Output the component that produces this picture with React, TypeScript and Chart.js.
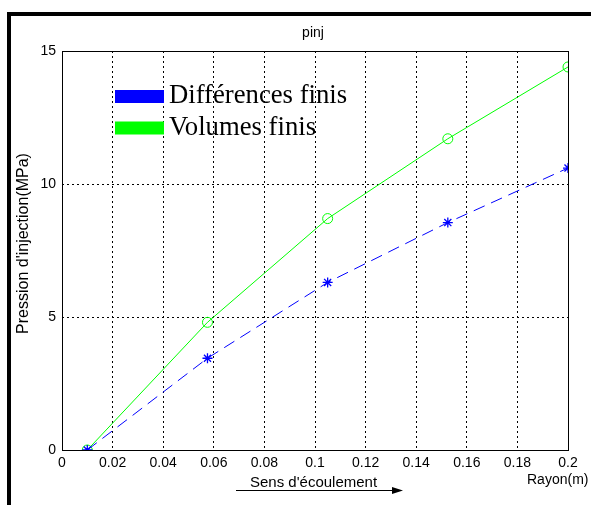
import React, { useEffect, useRef } from 'react';
import { Chart, registerables } from 'chart.js';

Chart.register(...registerables);

// ---- data ----
const radius = [0.01, 0.0575, 0.105, 0.1525, 0.2];
const diffFinis = [0, 3.45, 6.3, 8.55, 10.6];
const volFinis = [0, 4.8, 8.7, 11.7, 14.4];
const seriesLabels = ['Différences finis', 'Volumes finis'];
const xTickStep = 0.02;
const yTickStep = 5;
const titleText = 'pinj';
const xLabel = 'Rayon(m)';
const yLabel = "Pression d'injection(MPa)";
const flowLabel = "Sens d'écoulement";

const W = 591;
const H = 505;

const decorPlugin = {
  id: 'decor',
  afterDraw(chart: any) {
    const ctx: CanvasRenderingContext2D = chart.ctx;
    const a = chart.chartArea;
    ctx.save();
    // plot box
    ctx.strokeStyle = '#000';
    ctx.lineWidth = 1;
    ctx.setLineDash([]);
    const l = Math.round(a.left) + 0.5;
    const t = Math.round(a.top) + 0.5;
    const r = Math.round(a.right) + 0.5;
    const b = Math.round(a.bottom) + 0.5;
    ctx.strokeRect(l, t, r - l, b - t);

    // outer frame
    ctx.lineWidth = 4;
    ctx.strokeRect(9, 14, 800, 800);

    // title
    ctx.fillStyle = '#000';
    ctx.font = '14px Arial, "Liberation Sans", sans-serif';
    ctx.textAlign = 'center';
    ctx.textBaseline = 'middle';
    ctx.fillText(titleText, (a.left + a.right) / 2 - 2, 33);

    // x label
    ctx.textAlign = 'left';
    ctx.fillText(xLabel, 527, 480);

    // flow direction
    ctx.font = '15px Arial, "Liberation Sans", sans-serif';
    ctx.fillText(flowLabel, 250, 483);
    ctx.lineWidth = 1;
    ctx.beginPath();
    ctx.moveTo(236, 490.5);
    ctx.lineTo(394, 490.5);
    ctx.stroke();
    ctx.beginPath();
    ctx.moveTo(392, 487);
    ctx.lineTo(403, 490.5);
    ctx.lineTo(392, 494);
    ctx.closePath();
    ctx.fill();

    // y label
    ctx.save();
    ctx.font = '16px Arial, "Liberation Sans", sans-serif';
    ctx.translate(24, (a.top + a.bottom) / 2 - 7);
    ctx.rotate(-Math.PI / 2);
    ctx.textAlign = 'center';
    ctx.textBaseline = 'middle';
    ctx.fillText(yLabel, 0, 0);
    ctx.restore();

    // legend
    ctx.font = '26.7px "Times New Roman", "Liberation Serif", serif';
    ctx.textAlign = 'left';
    ctx.textBaseline = 'alphabetic';
    chart.data.datasets.forEach((ds: any, i: number) => {
      const y0 = 90 + i * 31.5;
      ctx.fillStyle = ds.borderColor;
      ctx.fillRect(115, y0, 49, 13);
      ctx.fillStyle = '#000';
      ctx.fillText(ds.label, 169, y0 + 13);
    });
    ctx.restore();
  },
};

export default function App() {
  const ref = useRef<HTMLCanvasElement | null>(null);

  useEffect(() => {
    if (!ref.current) return;
    const fmt = (v: any) => {
      const n = Math.round(Number(v) * 1000) / 1000;
      return String(n);
    };
    const chart = new Chart(ref.current, {
      type: 'line',
      data: {
        datasets: [
          {
            label: seriesLabels[0],
            data: radius.map((x, i) => ({ x, y: diffFinis[i] })),
            borderColor: '#0000ff',
            backgroundColor: '#0000ff',
            borderWidth: 1,
            borderDash: [12, 7],
            pointStyle: 'star',
            pointRadius: 5,
            pointBorderColor: '#0000ff',
            pointBorderWidth: 1.3,
            fill: false,
            tension: 0,
          },
          {
            label: seriesLabels[1],
            data: radius.map((x, i) => ({ x, y: volFinis[i] })),
            borderColor: '#00ff00',
            backgroundColor: 'rgba(0,0,0,0)',
            borderWidth: 1,
            pointStyle: 'circle',
            pointRadius: 5,
            pointBorderColor: '#00ff00',
            pointBackgroundColor: 'rgba(0,0,0,0)',
            pointBorderWidth: 1,
            fill: false,
            tension: 0,
          },
        ],
      },
      options: {
        responsive: false,
        animation: false,
        events: [],
        layout: { padding: { left: 0, top: 51, right: 23, bottom: 0 } },
        plugins: {
          legend: { display: false },
          title: { display: false },
          tooltip: { enabled: false },
        },
        scales: {
          x: {
            type: 'linear',
            min: 0,
            max: 0.2,
            afterFit: (s: any) => {
              s.height = 55;
            },
            ticks: {
              stepSize: xTickStep,
              callback: fmt,
              color: '#000',
              font: { family: 'Arial, "Liberation Sans", sans-serif', size: 14 },
              padding: 5,
              maxRotation: 0,
              autoSkip: false,
            },
            grid: { color: '#000', lineWidth: 1, drawTicks: false },
            border: { display: false, dash: [2, 3] },
          },
          y: {
            type: 'linear',
            min: 0,
            max: 15,
            afterFit: (s: any) => {
              s.width = 62;
            },
            ticks: {
              stepSize: yTickStep,
              callback: fmt,
              color: '#000',
              font: { family: 'Arial, "Liberation Sans", sans-serif', size: 14 },
              padding: 6,
            },
            grid: { color: '#000', lineWidth: 1, drawTicks: false },
            border: { display: false, dash: [2, 3] },
          },
        },
      } as any,
      plugins: [decorPlugin],
    });
    return () => chart.destroy();
  }, []);

  return (
    <div style={{ position: 'absolute', left: 0, top: 0, width: W, height: H, background: '#fff' }}>
      <canvas ref={ref} width={W} height={H} style={{ width: W, height: H, display: 'block' }} />
    </div>
  );
}
